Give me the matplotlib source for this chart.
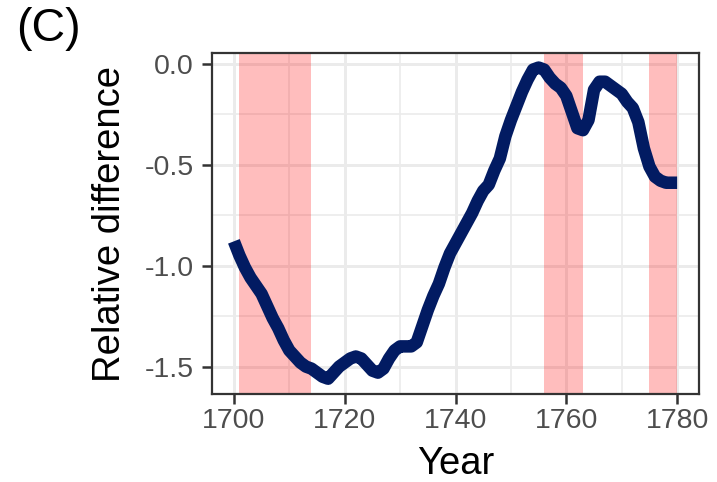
import matplotlib.pyplot as plt
import numpy as np

plt.rcParams['font.family'] = ['Liberation Sans', 'DejaVu Sans']

years = np.arange(1700, 1781)
rel_diff = [
    -0.88, -0.95, -1.01, -1.06, -1.10, -1.14, -1.20, -1.26, -1.31, -1.37,
    -1.42, -1.45, -1.48, -1.50, -1.51, -1.53, -1.55, -1.56, -1.53, -1.50,
    -1.48, -1.46, -1.45, -1.46, -1.49, -1.52, -1.53, -1.51, -1.46, -1.42,
    -1.40, -1.40, -1.40, -1.38, -1.30, -1.22, -1.15, -1.09, -1.01, -0.94,
    -0.89, -0.84, -0.79, -0.74, -0.68, -0.63, -0.60, -0.53, -0.47, -0.36,
    -0.28, -0.21, -0.14, -0.08, -0.03, -0.02, -0.03, -0.07, -0.10, -0.12,
    -0.16, -0.24, -0.32, -0.33, -0.28, -0.13, -0.09, -0.09, -0.11, -0.13,
    -0.15, -0.19, -0.22, -0.29, -0.42, -0.51, -0.56, -0.58, -0.59, -0.59,
    -0.59,
]

# shaded periods (start, end)
periods = [(1701, 1714), (1756, 1763), (1775, 1780)]

xticks = [1700, 1720, 1740, 1760, 1780]
xminor = [1710, 1730, 1750, 1770]
yticks = [0.0, -0.5, -1.0, -1.5]
yminor = [-0.25, -0.75, -1.25]

fig = plt.figure(figsize=(7.17, 4.82), dpi=100)
ax = fig.add_axes([0.2953, 0.182, 0.68, 0.708])

# ggplot-like grid
for x in xticks:
    ax.axvline(x, color='#EBEBEB', lw=2.1, zorder=0)
for x in xminor:
    ax.axvline(x, color='#EBEBEB', lw=1.2, zorder=0)
for y in yticks:
    ax.axhline(y, color='#EBEBEB', lw=2.1, zorder=0)
for y in yminor:
    ax.axhline(y, color='#EBEBEB', lw=1.2, zorder=0)

for start, end in periods:
    ax.axvspan(start, end, color='red', alpha=0.26, lw=0, zorder=1)

ax.plot(years, rel_diff, color='#021B62', lw=9,
        solid_capstyle='butt', solid_joinstyle='round', zorder=2)

ax.set_xlim(1696, 1784)
ax.set_ylim(-1.637, 0.052)
ax.set_xticks(xticks)
ax.set_yticks(yticks)
ax.set_xticklabels([str(x) for x in xticks])
ax.set_yticklabels(['0.0', '-0.5', '-1.0', '-1.5'])
ax.tick_params(axis='both', colors='#333333', labelcolor='#4D4D4D',
               labelsize=20.5, length=7.2, width=1.8)
ax.tick_params(axis='x', pad=3)
ax.tick_params(axis='y', pad=5.5)

for s in ax.spines.values():
    s.set_color('#333333')
    s.set_linewidth(1.6)

ax.set_xlabel('Year', fontsize=27.5, va='center')
ax.xaxis.set_label_coords(0.5, -0.204)
ax.set_ylabel('Relative difference', fontsize=27.5, va='center')
ax.yaxis.set_label_coords(-0.2086, 0.5)

fig.text(0.022, 0.985, '(C)', fontsize=33.5, va='top', ha='left')

fig.savefig('out.png', dpi=100)
